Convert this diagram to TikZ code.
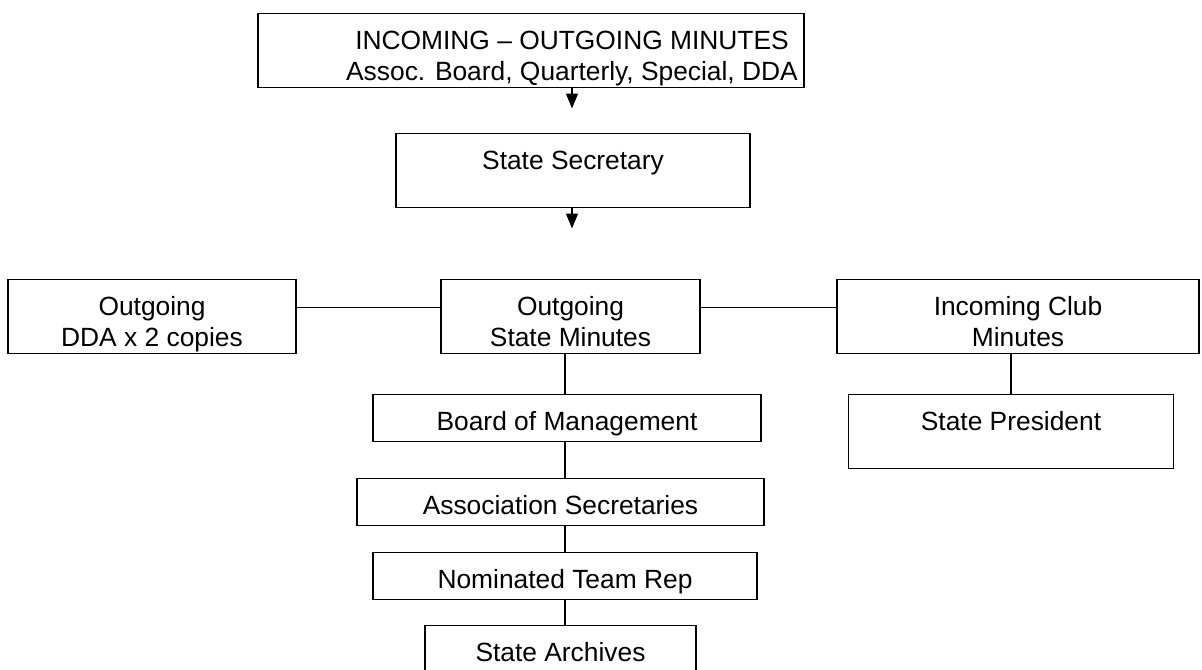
\documentclass[tikz,border=0pt]{standalone}
\usepackage{fontspec}
\setmainfont{Liberation Sans}
\usetikzlibrary{arrows.meta}

\begin{document}
\begin{tikzpicture}[
  box/.style={draw, line width=0.7pt, inner sep=0pt, anchor=north,
              text height=0.72cm, font=\fontsize{15}{18}\selectfont},
  tall/.style={box, text depth=0.76cm},
  short/.style={box, text depth=0.22cm},
  link/.style={line width=0.7pt},
  flow/.style={link, -{Triangle[length=0.30cm, width=0.24cm]}}
]
% Page 24.04 x 13.38 cm, origin at the top-left corner
\useasboundingbox (0,0) rectangle (24.04,-13.38);
\clip (0,0) rectangle (24.04,-13.38);

% Top edges of the rows
\def\yTop{-0.25}
\def\ySec{-2.65}
\def\yRow{-5.57}
\def\yBoard{-7.88}
\def\yAssoc{-9.56}
\def\yRep{-11.04}
\def\yArch{-12.50}

% Header and secretary
\node[tall, minimum width=10.92cm] (minutes) at (10.62,\yTop)
  {\begin{tabular}[t]{@{\hspace{1.64cm}}c@{}}INCOMING -- OUTGOING MINUTES\\
   Assoc. Board, Quarterly, Special, DDA\end{tabular}};
\node[tall, minimum width=7.08cm] (secretary) at (11.46,\ySec) {State Secretary};

% Arrows stop short of the next box
\coordinate (tip1) at (11.44,-2.17);
\coordinate (tip2) at (11.44,-4.57);
\draw[flow] (minutes.south -| tip1) -- (tip1);
\draw[flow] (secretary.south -| tip2) -- (tip2);

% Middle row
\node[tall, minimum width=5.76cm] (dda) at (3.04,\yRow)
  {\begin{tabular}[t]{@{}c@{}}Outgoing\\DDA x 2 copies\end{tabular}};
\node[tall, minimum width=5.18cm] (stmin) at (11.41,\yRow)
  {\begin{tabular}[t]{@{}c@{}}Outgoing\\State Minutes\end{tabular}};
\node[tall, minimum width=7.24cm] (club) at (20.36,\yRow)
  {\begin{tabular}[t]{@{}c@{}}Incoming Club\\Minutes\end{tabular}};
\draw[link] ([yshift=0.18cm]dda.east) -- ([yshift=0.18cm]stmin.west);
\draw[link] ([yshift=0.18cm]stmin.east) -- ([yshift=0.18cm]club.west);

% Right branch
\node[tall, minimum width=6.50cm] (president) at (20.22,\yBoard) {State President};
\draw[link] (club.south -| president.north) -- (president.north);

% Chain below the state minutes
\coordinate (spine) at (11.30,0);
\node[short, minimum width=7.76cm] (board) at (11.34,\yBoard) {Board of Management};
\node[short, minimum width=8.14cm] (assoc) at (11.21,\yAssoc) {Association Secretaries};
\node[short, minimum width=7.68cm] (rep) at (11.30,\yRep) {Nominated Team Rep};
\node[tall, minimum width=5.42cm] (archives) at (11.21,\yArch) {State Archives};
\foreach \a/\b in {stmin/board, board/assoc, assoc/rep, rep/archives}
  \draw[link] (\a.south -| spine) -- (\b.north -| spine);
\end{tikzpicture}
\end{document}
